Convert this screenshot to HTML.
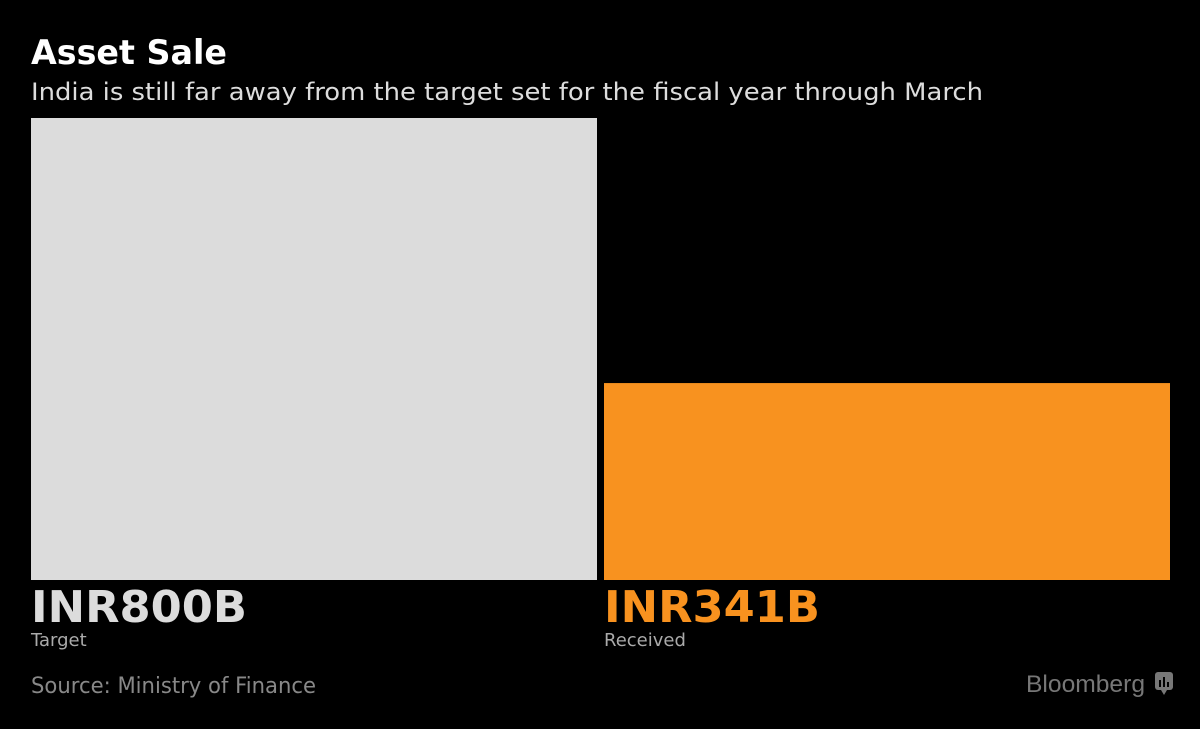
<!DOCTYPE html>
<html><head><meta charset="utf-8"><style>
html,body{margin:0;padding:0;background:#000;}
svg{display:block;font-family:"DejaVu Sans","Liberation Sans",sans-serif;}
</style></head><body>
<svg id="chart" width="1200" height="729" viewBox="0 0 1200 729">
<text x="31" y="64" font-size="34" font-weight="bold" fill="#fff" textLength="196" lengthAdjust="spacingAndGlyphs">Asset Sale</text>
<text x="31" y="100" font-size="24" fill="#ddd" textLength="952" lengthAdjust="spacingAndGlyphs">India is still far away from the target set for the fiscal year through March</text>
<g id="bars"></g>
<text x="31" y="693" font-size="22" fill="#888" textLength="285" lengthAdjust="spacingAndGlyphs">Source: Ministry of Finance</text>
<text x="1026" y="692" font-size="24" fill="#777" font-family="Liberation Sans, sans-serif" textLength="119" lengthAdjust="spacingAndGlyphs">Bloomberg</text>
<g>
<rect x="1155" y="672" width="18" height="18" rx="3" fill="#777"/>
<path d="M1161 690 L1164 695 L1167 690 Z" fill="#777"/>
<rect x="1159" y="680" width="2" height="7" fill="#000"/>
<rect x="1163" y="677" width="2" height="10" fill="#000"/>
<rect x="1167" y="682" width="2" height="5" fill="#000"/>
</g>
</svg>
<script>
const categories = ["Target", "Received"];
const values = [800, 341];
const valueLabels = ["INR800B", "INR341B"];
const colors = ["#dcdcdc", "#f8921f"];
const NS = "http://www.w3.org/2000/svg";
const g = document.getElementById("bars");
const baseY = 580, topY = 118, maxV = 800;
function yScale(v){ return baseY - (v / maxV) * (baseY - topY); }
const x0 = 31, barW = 566, gap = 7;
function xScale(i){ return x0 + i * (barW + gap); }
categories.forEach((c, i) => {
  const r = document.createElementNS(NS, "rect");
  r.setAttribute("x", xScale(i));
  r.setAttribute("y", yScale(values[i]));
  r.setAttribute("width", barW);
  r.setAttribute("height", baseY - yScale(values[i]));
  r.setAttribute("fill", colors[i]);
  
  
  g.appendChild(r);
  const t = document.createElementNS(NS, "text");
  t.setAttribute("x", xScale(i));
  t.setAttribute("y", 622);
  t.setAttribute("font-size", "44");
  t.setAttribute("font-weight", "bold");
  t.setAttribute("fill", colors[i]);
  t.setAttribute("textLength", "216");
  t.setAttribute("lengthAdjust", "spacingAndGlyphs");
  t.textContent = valueLabels[i];
  
  
  g.appendChild(t);
  const l = document.createElementNS(NS, "text");
  l.setAttribute("x", xScale(i));
  l.setAttribute("y", 646);
  l.setAttribute("font-size", "18");
  l.setAttribute("fill", "#aaa");
  l.textContent = c;
  
  
  g.appendChild(l);
});
</script>
</body></html>
